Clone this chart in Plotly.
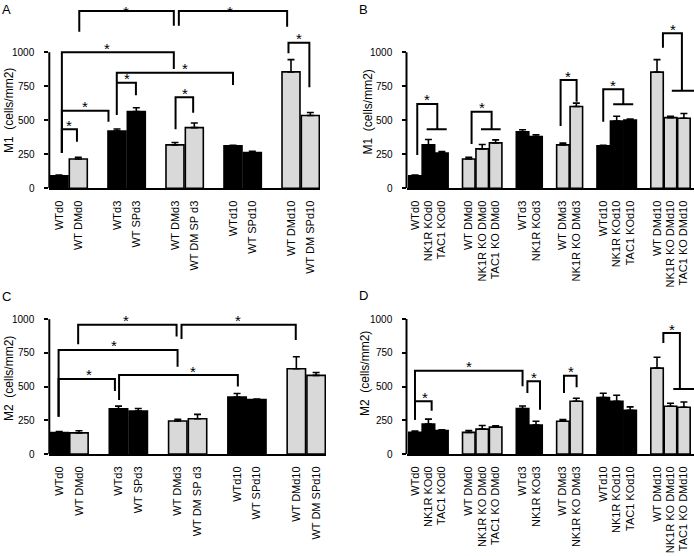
import plotly.graph_objects as go

W, H = 694, 556
BLACK = "#000000"
GRAY = "#d9d9d9"

# ---------------- data ----------------
A_labels = ["WTd0", "WT DMd0", "WTd3", "WT SPd3", "WT DMd3", "WT DM SP d3",
            "WTd10", "WT SPd10", "WT DMd10", "WT DM SPd10"]
A_pos = [0, 1, 3, 4, 6, 7, 9, 10, 12, 13]
A_fill = ["k", "g", "k", "k", "g", "g", "k", "k", "g", "g"]

M1_A = [92, 215, 421, 564, 319, 446, 312, 262, 856, 535]
M1_A_err = [5, 13, 15, 28, 18, 34, 5, 10, 90, 22]

M2_C = [159, 157, 336, 319, 245, 262, 422, 404, 632, 583]
M2_C_err = [8, 15, 19, 19, 12, 32, 27, 4, 89, 22]

B_labels = ["WTd0", "NK1R KOd0", "TAC1 KOd0",
            "WT DMd0", "NK1R KO DMd0", "TAC1 KO DMd0",
            "WTd3", "NK1R KOd3",
            "WT DMd3", "NK1R KO DMd3",
            "WTd10", "NK1R KOd10", "TAC1 KOd10",
            "WT DMd10", "NK1R KO DMd10", "TAC1 KO DMd10"]
B_pos = [0, 1, 2, 4, 5, 6, 8, 9, 11, 12, 14, 15, 16, 18, 19, 20]
B_fill = ["k", "k", "k", "g", "g", "g", "k", "k", "g", "g", "k", "k", "k", "g", "g", "g"]

M1_B = [92, 319, 260, 215, 290, 334, 416, 381, 319, 601, 312, 495, 502, 854, 520, 515]
M1_B_err = [5, 40, 10, 13, 32, 22, 15, 13, 13, 25, 4, 35, 8, 92, 10, 35]

M2_D = [160, 221, 174, 160, 184, 199, 337, 214, 243, 391, 418, 391, 324, 636, 354, 346]
M2_D_err = [10, 37, 5, 14, 27, 10, 19, 29, 12, 22, 32, 44, 25, 81, 22, 39]

y_ticks = [0, 250, 500, 750, 1000]

# significance brackets: (x_left, x_right, y_top, y_left_bottom, y_right_bottom, star_x, t_x0, t_x1)
brackets_A = [
    (1.05, 5.94, 1304, 1151, 1196, 3.47, None, None),
    (6.2, 11.8, 1304, 1196, 1188, 8.83, None, None),
    (0.15, 5.94, 1000, 260, 877, 2.49, None, None),
    (0.15, 2.56, 571, 260, 490, 1.36, None, None),
    (0.15, 0.93, 434, 260, 343, 0.54, None, None),
    (2.99, 9.0, 850, 539, 760, 6.54, None, None),
    (2.99, 3.98, 776, 776, 685, 3.5, None, None),
    (6.03, 6.94, 669, 434, 556, 6.5, None, None),
    (11.87, 12.95, 1071, 993, 743, 12.4, None, None),
]
brackets_B = [
    (0.17, 1.66, 620, 245, 434, 0.9, 0.87, 2.36),
    (4.21, 5.70, 563, 326, 434, 4.95, 4.91, 6.37),
    (10.83, 12.02, 796, 458, 637, 11.4, None, None),
    (14.0, 15.49, 728, 490, 618, 14.75, 14.74, 16.23),
    (18.44, 19.85, 1140, 1034, 718, 19.2, 19.1, 20.75),
]
brackets_C = [
    (0.96, 5.94, 958, 814, 871, 3.4, None, None),
    (6.19, 11.97, 958, 854, 846, 9.04, None, None),
    (-0.03, 5.99, 772, 277, 648, 2.77, None, None),
    (-0.03, 2.82, 557, 277, 468, 1.5, None, None),
    (3.03, 9.04, 586, 401, 500, 6.75, None, None),
]
brackets_D = [
    (0.0, 1.24, 390, 254, 321, 0.72, None, None),
    (0.0, 8.0, 617, 254, 501, 4.0, None, None),
    (8.36, 9.3, 538, 452, 328, 8.85, None, None),
    (11.08, 12.02, 580, 452, 494, 11.58, None, None),
    (18.47, 19.70, 896, 822, 481, 19.08, 19.21, 20.75),
]

# ---------------- layout geometry (pixels) ----------------
def px_dom_x(a, b):
    return [a / W, b / W]

def px_dom_y(top, bottom):
    return [(H - bottom) / H, (H - top) / H]

panels = {
    "A": dict(xp=(49.3, 320), y0=188.3, y1k=52.3, top=0, xr=[-0.5, 13.5]),
    "B": dict(xp=(406.5, 694), y0=188.3, y1k=52.3, top=0, xr=[-0.63, 20.75]),
    "C": dict(xp=(49.3, 326), y0=454, y1k=319.2, top=300, xr=[-0.5, 13.5]),
    "D": dict(xp=(406.5, 694), y0=454, y1k=319, top=300, xr=[-0.63, 20.75]),
}

FONT = "Liberation Sans, Arial, sans-serif"

fig = go.Figure()

specs = [
    ("A", 1, A_pos, A_labels, A_fill, M1_A, M1_A_err, brackets_A, "M1", (9, 111)),
    ("B", 2, B_pos, B_labels, B_fill, M1_B, M1_B_err, brackets_B, "M1", (367.5, 112)),
    ("C", 3, A_pos, A_labels, A_fill, M2_C, M2_C_err, brackets_C, "M2", (9, 379)),
    ("D", 4, B_pos, B_labels, B_fill, M2_D, M2_D_err, brackets_D, "M2", (365, 374)),
]

letter_pos = {"A": (6, 9), "B": (363, 9), "C": (6, 296), "D": (363, 295)}

layout = dict(
    width=W, height=H, autosize=False,
    margin=dict(l=0, r=0, t=0, b=0),
    paper_bgcolor="white", plot_bgcolor="white",
    showlegend=False,
    font=dict(family=FONT, color="black", size=11),
)

for name, i, pos, labels, fill, vals, errs, brs, ylab, tpos in specs:
    p = panels[name]
    pxper = (p["y0"] - p["y1k"]) / 1000.0
    ytop = (p["y0"] - p["top"]) / pxper
    xa = "x" if i == 1 else f"x{i}"
    ya = "y" if i == 1 else f"y{i}"
    colors = [BLACK if f == "k" else GRAY for f in fill]
    fig.add_trace(go.Bar(
        x=pos, y=vals, width=0.93, xaxis=xa, yaxis=ya,
        marker=dict(color=colors, line=dict(color=BLACK, width=1.6)),
        error_y=dict(type="data", symmetric=False, array=errs,
                     arrayminus=[0] * len(errs), color=BLACK,
                     thickness=1.6, width=3.5),
        hoverinfo="skip",
    ))
    bx, by = [], []
    for (xl, xr, yt, ylb, yrb, sx, tx0, tx1) in brs:
        bx += [xl, xl, xr, xr, None]
        by += [ylb, yt, yt, yrb, None]
        if tx0 is not None:
            bx += [tx0, tx1, None]
            by += [yrb, yrb, None]
        line_px = p["y0"] - yt * pxper
        shift = min(4, line_px - 11)
        fig.add_annotation(x=sx, y=yt, xref=xa, yref=ya, text="*",
                           showarrow=False, yanchor="middle", yshift=shift,
                           font=dict(size=15, family=FONT, color="black"))
    fig.add_trace(go.Scatter(x=bx, y=by, mode="lines", xaxis=xa, yaxis=ya,
                             line=dict(color=BLACK, width=2),
                             hoverinfo="skip", cliponaxis=False))
    fig.add_shape(type="line", xref=f"{xa} domain", yref=ya, x0=0, x1=0,
                  y0=0, y1=1000, line=dict(color=BLACK, width=2))
    for v in y_ticks:
        fig.add_annotation(x=0, y=v, xref=f"{xa} domain", yref=ya, text=str(v),
                           showarrow=False, xanchor="right", yanchor="middle",
                           xshift=-12, font=dict(size=10, family=FONT, color="black"))

    xkey = "xaxis" if i == 1 else f"xaxis{i}"
    ykey = "yaxis" if i == 1 else f"yaxis{i}"
    layout[xkey] = dict(
        domain=px_dom_x(*p["xp"]), range=p["xr"], anchor=ya,
        tickvals=pos, ticktext=labels, tickangle=-90,
        ticks="outside", ticklen=6, tickcolor="rgba(0,0,0,0)",
        showgrid=False, zeroline=False, showline=True,
        linecolor=BLACK, linewidth=2,
        tickfont=dict(size=11, family=FONT, color="black"),
        fixedrange=True,
    )
    layout[ykey] = dict(
        domain=px_dom_y(p["top"], p["y0"]), range=[0, ytop], anchor=xa,
        tickvals=y_ticks, showticklabels=False,
        ticks="outside", ticklen=4, tickwidth=1.5, tickcolor=BLACK,
        showgrid=False, zeroline=False, showline=False,
        fixedrange=True,
    )
    fig.add_annotation(x=tpos[0] / W, y=1 - tpos[1] / H, xref="paper", yref="paper",
                       text=f"{ylab}\u00a0 (cells/mm2)", textangle=-90,
                       showarrow=False, xanchor="center", yanchor="middle",
                       font=dict(size=12, family=FONT, color="black"))
    lx, ly = letter_pos[name]
    fig.add_annotation(x=lx / W, y=1 - ly / H, xref="paper", yref="paper",
                       text=name, showarrow=False, xanchor="center", yanchor="middle",
                       font=dict(size=13, family=FONT, color="black"))

fig.update_layout(**layout)
fig.write_html("out.html", config={"displayModeBar": False},
               post_script="document.body.style.margin='0';document.body.style.overflow='hidden';")
